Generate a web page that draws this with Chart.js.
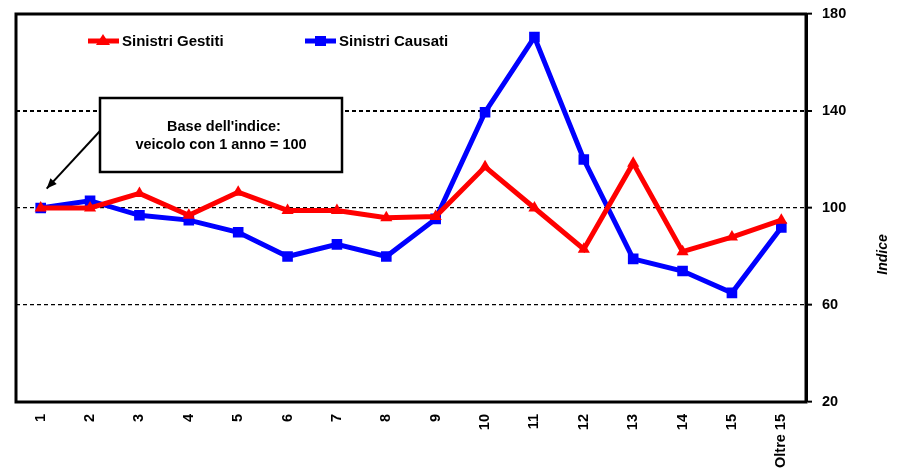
<!DOCTYPE html>
<html>
<head>
<meta charset="utf-8">
<script src="https://cdn.jsdelivr.net/npm/chart.js@4"></script>
<style>
  html, body { margin: 0; padding: 0; background: #fff; overflow: hidden; }
  #wrap { width: 898px; height: 490px; }
</style>
</head>
<body>
<div id="wrap"><canvas id="indiceChart" width="898" height="490"></canvas></div>
<script>
// età del veicolo
const categorie = ['1', '2', '3', '4', '5', '6', '7', '8', '9', '10', '11', '12', '13', '14', '15', 'Oltre 15'];
const sinistriGestiti = [100, 100, 106, 97, 106.5, 99, 99, 96, 96.5, 117, 100, 83, 118.5, 82, 88, 95];
const sinistriCausati = [100, 103, 97, 95, 90, 80, 85, 80, 95.5, 139.5, 170.5, 120, 79, 74, 65, 92];
const yTicks = [20, 60, 100, 140, 180];

const FONT = '"Liberation Sans", Arial, sans-serif';

// legenda, riquadro e cornice disegnati dentro l'area del grafico
const decorazioni = {
    id: 'decorazioni',
    afterDraw(chart) {
        const { ctx, chartArea: a } = chart;
        ctx.save();

        // cornice
        ctx.strokeStyle = '#000';
        ctx.lineWidth = 3;
        ctx.strokeRect(a.left, a.top, a.right - a.left, a.bottom - a.top);

        // legenda
        const voci = [
            { testo: 'Sinistri Gestiti', colore: '#ff0000', stile: 'triangle', x: a.left + 72 },
            { testo: 'Sinistri Causati', colore: '#0000ff', stile: 'rect', x: a.left + 289 }
        ];
        const ly = a.top + 27;
        voci.forEach(v => {
            ctx.strokeStyle = v.colore;
            ctx.lineWidth = 5;
            ctx.beginPath();
            ctx.moveTo(v.x, ly);
            ctx.lineTo(v.x + 31, ly);
            ctx.stroke();
            ctx.fillStyle = v.colore;
            if (v.stile === 'rect') {
                ctx.fillRect(v.x + 10, ly - 5, 11, 10);
            } else {
                ctx.beginPath();
                ctx.moveTo(v.x + 15, ly - 7);
                ctx.lineTo(v.x + 22, ly + 4);
                ctx.lineTo(v.x + 8, ly + 4);
                ctx.closePath();
                ctx.fill();
            }
            ctx.fillStyle = '#000';
            ctx.font = 'bold 15px ' + FONT;
            ctx.textBaseline = 'middle';
            ctx.textAlign = 'left';
            ctx.fillText(v.testo, v.x + 34, ly + 1);
        });

        // riquadro "Base dell'indice"
        const bx = a.left + 84, by = a.top + 84, bw = 242, bh = 74;
        ctx.fillStyle = '#fff';
        ctx.fillRect(bx, by, bw, bh);
        ctx.strokeStyle = '#000';
        ctx.lineWidth = 2.5;
        ctx.strokeRect(bx, by, bw, bh);
        ctx.fillStyle = '#000';
        ctx.font = 'bold 14.5px ' + FONT;
        ctx.textAlign = 'center';
        ctx.textBaseline = 'middle';
        ctx.fillText("Base dell'indice:", bx + bw / 2 + 3, by + 29);
        ctx.fillText('veicolo con 1 anno = 100', bx + bw / 2, by + 47);

        // freccia verso il primo punto
        const x = chart.scales.x, y = chart.scales.y;
        const tx = x.getPixelForValue(0) + 6, ty = y.getPixelForValue(108);
        const sx = bx, sy = by + 33;
        ctx.lineWidth = 2;
        ctx.beginPath();
        ctx.moveTo(sx, sy);
        ctx.lineTo(tx, ty);
        ctx.stroke();
        const ang = Math.atan2(ty - sy, tx - sx);
        ctx.beginPath();
        ctx.moveTo(tx, ty);
        ctx.lineTo(tx - 11 * Math.cos(ang - 0.4), ty - 11 * Math.sin(ang - 0.4));
        ctx.lineTo(tx - 11 * Math.cos(ang + 0.4), ty - 11 * Math.sin(ang + 0.4));
        ctx.closePath();
        ctx.fill();

        // titolo asse y
        ctx.save();
        ctx.translate(a.right + 77, (y.getPixelForValue(100) + y.getPixelForValue(60)) / 2 - 2);
        ctx.rotate(-Math.PI / 2);
        ctx.font = 'italic bold 14px ' + FONT;
        ctx.fillText('Indice', 0, 0);
        ctx.restore();

        ctx.restore();
    }
};

new Chart(document.getElementById('indiceChart').getContext('2d'), {
    type: 'line',
    data: {
        labels: categorie,
        datasets: [
            {
                label: 'Sinistri Gestiti',
                data: sinistriGestiti,
                borderColor: '#ff0000',
                backgroundColor: '#ff0000',
                borderWidth: 5,
                pointStyle: 'triangle',
                pointRadius: 7,
                pointBorderWidth: 0,
                tension: 0
            },
            {
                label: 'Sinistri Causati',
                data: sinistriCausati,
                borderColor: '#0000ff',
                backgroundColor: '#0000ff',
                borderWidth: 5,
                pointStyle: 'rect',
                pointRadius: 7.5,
                pointBorderWidth: 0,
                tension: 0
            }
        ]
    },
    options: {
        responsive: false,
        animation: false,
        layout: { padding: { left: 16, top: 14, right: 0, bottom: 0 } },
        plugins: {
            legend: { display: false },
            tooltip: { enabled: false }
        },
        scales: {
            x: {
                offset: true,
                grid: { display: false, drawTicks: false },
                border: { display: false },
                ticks: {
                    color: '#000',
                    font: { family: FONT, size: 14.5, weight: 'bold' },
                    minRotation: 90,
                    maxRotation: 90,
                    autoSkip: false,
                    padding: 12
                },
                title: {
                    display: true,
                    text: 'Età del veicolo',
                    color: '#000',
                    font: { family: FONT, size: 14, weight: 'bold' },
                    padding: 0
                },
                afterFit(scale) { scale.height = 88; }
            },
            y: {
                position: 'right',
                min: 20,
                max: 180,
                afterBuildTicks(scale) { scale.ticks = yTicks.map(v => ({ value: v })); },
                grid: {
                    color: c => (c.tick && (c.tick.value === 20 || c.tick.value === 180)) ? 'rgba(0,0,0,0)' : '#000',
                    lineWidth: c => (c.tick && c.tick.value === 140) ? 2 : 1.3,
                    tickColor: '#000',
                    tickLength: 6,
                    tickWidth: 2
                },
                border: { display: true, color: '#000', width: 3, dash: [4, 3] },
                ticks: {
                    color: '#000',
                    font: { family: FONT, size: 14.5, weight: 'bold' },
                    padding: 10
                },
                afterFit(scale) {
                    scale.width = 92;
                    scale.paddingTop = 0;
                    scale.paddingBottom = 0;
                }
            }
        }
    },
    plugins: [decorazioni]
});
</script>
</body>
</html>
